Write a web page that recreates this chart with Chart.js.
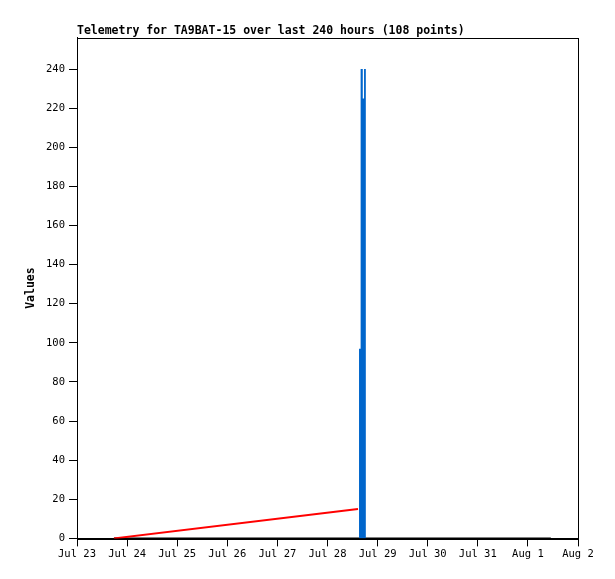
<!DOCTYPE html>
<html>
<head>
<meta charset="utf-8">
<script src="https://cdn.jsdelivr.net/npm/chart.js@4"></script>
<style>
  html, body { margin: 0; padding: 0; background: #fff; }
  #wrap { width: 615px; height: 579px; }
</style>
</head>
<body>
<div id="wrap"><canvas id="myChart" width="615" height="579"></canvas></div>
<script>
// hours since Jul 23 00:00
const tickHours = [0, 24, 48, 72, 96, 120, 144, 168, 192, 216, 240];
const tickLabels = ['Jul 23', 'Jul 24', 'Jul 25', 'Jul 26', 'Jul 27', 'Jul 28', 'Jul 29', 'Jul 30', 'Jul 31', 'Aug 1', 'Aug 2'];
const yTicks = [0, 20, 40, 60, 80, 100, 120, 140, 160, 180, 200, 220, 240];

const redHours = [17.7, 134.6];
const redValues = [0, 15];

const blackHours = [17.7, 227];
const blackValues = [0, 0];

// outline of the spike around Jul 28 16:00
const blueHours = [135.1, 135.1, 135.6, 135.6, 136.0, 136.0, 136.9, 136.9, 137.5, 137.5, 138.4, 138.4];
const blueValues = [0, 97, 97, 225, 225, 240, 240, 225, 225, 240, 240, 0];

const toPoints = (xs, ys) => xs.map((x, i) => ({ x: x, y: ys[i] }));

const frame = {
  id: 'frame',
  afterDraw(chart) {
    const a = chart.chartArea;
    const ctx = chart.ctx;
    ctx.save();
    ctx.strokeStyle = '#000';
    ctx.lineWidth = 1;
    ctx.strokeRect(Math.round(a.left) + 0.5, Math.round(a.top) + 0.5, Math.round(a.right - a.left), Math.round(a.bottom - a.top));
    ctx.restore();
  }
};

const mono = 'DejaVu Sans Mono';

new Chart(document.getElementById('myChart').getContext('2d'), {
  type: 'line',
  data: {
    datasets: [
      { data: toPoints(blueHours, blueValues), borderColor: '#0066cc', backgroundColor: '#0066cc', borderWidth: 0, fill: 'origin', order: 1 },
      { data: toPoints(redHours, redValues), borderColor: '#ff0000', borderWidth: 2, order: 2 },
      { data: toPoints(blackHours, blackValues), borderColor: '#000000', borderWidth: 2, order: 3 }
    ]
  },
  options: {
    responsive: false,
    animation: false,
    layout: { padding: { left: 24, right: 37, top: 24, bottom: 16 } },
    elements: { point: { radius: 0 }, line: { tension: 0, borderJoinStyle: 'miter' } },
    plugins: {
      legend: { display: false },
      tooltip: { enabled: false },
      filler: { propagate: false },
      title: {
        display: true,
        fullSize: false,
        align: 'start',
        text: 'Telemetry for TA9BAT-15 over last 240 hours (108 points)',
        color: '#000',
        font: { family: mono, size: 11.5, weight: 'bold' },
        padding: { top: 0, bottom: 0 }
      }
    },
    scales: {
      x: {
        type: 'linear',
        min: 0,
        max: 240,
        afterBuildTicks: (axis) => { axis.ticks = tickHours.map(v => ({ value: v })); },
        grid: { drawOnChartArea: false, tickLength: 8, color: '#000', tickWidth: 1 },
        border: { color: '#000' },
        ticks: {
          color: '#000',
          autoSkip: false,
          maxRotation: 0,
          padding: 2,
          font: { family: mono, size: 10.5 },
          callback: (v) => tickLabels[tickHours.indexOf(v)]
        }
      },
      y: {
        min: 0,
        max: 256,
        afterBuildTicks: (axis) => { axis.ticks = yTicks.map(v => ({ value: v })); },
        afterFit: (axis) => { axis.width = 53; },
        grid: { drawOnChartArea: false, tickLength: 8, color: '#000', tickWidth: 1 },
        border: { color: '#000' },
        title: {
          display: true,
          text: 'Values',
          color: '#000',
          font: { family: mono, size: 11.5, weight: 'bold' },
          padding: { top: 0, bottom: 0 }
        },
        ticks: {
          color: '#000',
          padding: 4,
          font: { family: mono, size: 10.5 }
        }
      }
    }
  },
  plugins: [frame]
});
</script>
</body>
</html>
